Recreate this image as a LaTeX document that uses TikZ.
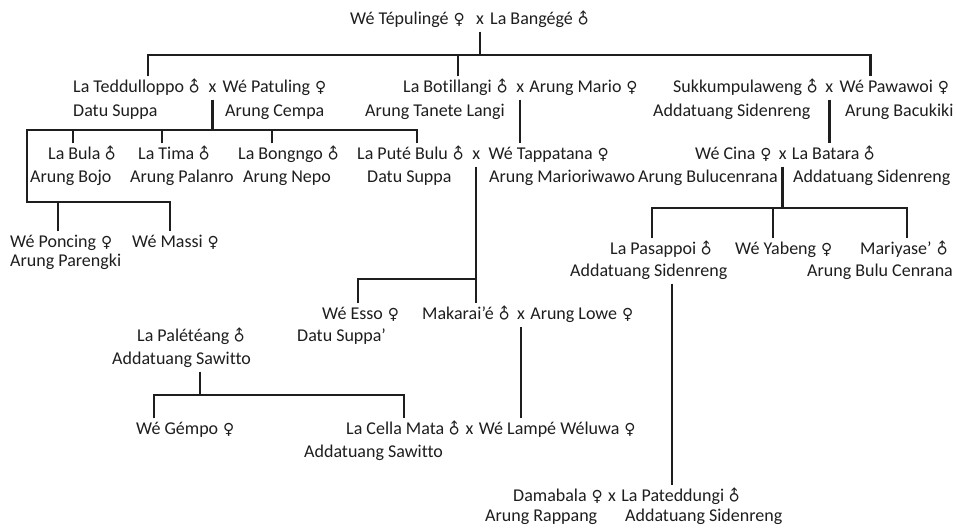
\documentclass[tikz,border=0pt]{standalone}
\usepackage{fontspec}
\usetikzlibrary{positioning}
\setmainfont{Carlito}[Ligatures=NoCommon]
\newfontfamily\symfont{DejaVu Sans}[Scale=0.85]
\definecolor{ink}{HTML}{1E1E1E}
\newcommand{\msym}{\hspace{6pt}\makebox[9pt]{\symfont\rotatebox[origin=c]{45}{♂}}}
\newcommand{\fsym}{\hspace{6pt}\makebox[9pt]{\symfont ♀}}
\tikzset{
  every node/.style={font=\fontsize{18}{22}\selectfont, text=ink, inner xsep=0pt, inner ysep=3pt, text height=13pt, text depth=4pt},
  link/.style={draw=ink, line width=2.4pt},
}
\begin{document}
\begin{tikzpicture}[x=1pt,y=-1pt]
  \useasboundingbox[fill=white] (0,0) rectangle (956,530);
  % first couple
  \node[anchor=west] (tepu) at (350,20) {Wé Tépulingé\fsym};
  \node[right=12pt of tepu] (x0) {x};
  \node[right=6pt of x0] (bange) {La Bangégé\msym};
  % their children
  \node[anchor=west] (tedd) at (73,88) {La Teddulloppo\msym};
  \node[right=9pt of tedd] (x1) {x};
  \node[right=6pt of x1] (patul) {Wé Patuling\fsym};
  \node[anchor=west] (teddT) at (73,112) {Datu Suppa};
  \node[anchor=west] (patulT) at (225,112) {Arung Cempa};
  \node[anchor=west] (botil) at (403,88) {La Botillangi\msym};
  \node[right=9pt of botil] (x2) {x};
  \node[right=5pt of x2] (mario) {Arung Mario\fsym};
  \node[anchor=west] (botilT) at (365,112) {Arung Tanete Langi};
  \node[anchor=west] (sukku) at (673,88) {Sukkumpulaweng\msym};
  \node[right=8pt of sukku] (x3) {x};
  \node[right=6pt of x3] (pawa) {Wé Pawawoi\fsym};
  \node[anchor=west] (sukkuT) at (653,112) {Addatuang Sidenreng};
  \node[anchor=west] (pawaT) at (845,112) {Arung Bacukiki};
  % grandchildren
  \node[anchor=west] (bula) at (48,155) {La Bula\msym};
  \node[anchor=west] (bulaT) at (30,178) {Arung Bojo};
  \node[anchor=west] (tima) at (138,155) {La Tima\msym};
  \node[anchor=west] (timaT) at (130,178) {Arung Palanro};
  \node[anchor=west] (bong) at (238,155) {La Bongngo\msym};
  \node[anchor=west] (bongT) at (243,178) {Arung Nepo};
  \node[anchor=west] (pute) at (357,155) {La Puté Bulu\msym};
  \node[right=9pt of pute] (x4) {x};
  \node[right=8pt of x4] (tappa) {Wé Tappatana\fsym};
  \node[anchor=west] (puteT) at (367,178) {Datu Suppa};
  \node[anchor=west] (tappaT) at (489,178) {Arung Marioriwawo};
  \node[anchor=west] (cina) at (695,155) {Wé Cina\fsym};
  \node[right=8pt of cina] (x5) {x};
  \node[right=5pt of x5] (batara) {La Batara\msym};
  \node[anchor=west] (cinaT) at (638,178) {Arung Bulucenrana};
  \node[anchor=west] (bataraT) at (793,178) {Addatuang Sidenreng};
  % next generation
  \node[anchor=west] (poncing) at (10,243) {Wé Poncing\fsym};
  \node[anchor=west] (poncingT) at (10,262) {Arung Parengki};
  \node[anchor=west] (massi) at (132,243) {Wé Massi\fsym};
  \node[anchor=west] (pasap) at (610,250) {La Pasappoi\msym};
  \node[anchor=west] (pasapT) at (570,272) {Addatuang Sidenreng};
  \node[anchor=west] (yabeng) at (735,250) {Wé Yabeng\fsym};
  \node[anchor=west] (mariy) at (860,250) {Mariyase’\msym};
  \node[anchor=west] (mariyT) at (807,272) {Arung Bulu Cenrana};
  \node[anchor=west] (esso) at (322,315) {Wé Esso\fsym};
  \node[anchor=west] (essoT) at (297,337) {Datu Suppa’};
  \node[anchor=west] (makar) at (422,315) {Makarai’é\msym};
  \node[right=8pt of makar] (x6) {x};
  \node[right=5pt of x6] (lowe) {Arung Lowe\fsym};
  \node[anchor=west] (palet) at (137,337) {La Palétéang\msym};
  \node[anchor=west] (paletT) at (112,360) {Addatuang Sawitto};
  \node[anchor=west] (gempo) at (136,430) {Wé Gémpo\fsym};
  \node[anchor=west] (cella) at (346,430) {La Cella Mata\msym};
  \node[right=6pt of cella] (x7) {x};
  \node[right=5pt of x7] (lampe) {Wé Lampé Wéluwa\fsym};
  \node[anchor=west] (cellaT) at (304,453) {Addatuang Sawitto};
  \node[anchor=west] (damab) at (513,497) {Damabala\fsym};
  \node[right=6pt of damab] (x8) {x};
  \node[right=5pt of x8] (pated) {La Pateddungi\msym};
  \node[anchor=west] (damabT) at (485,517) {Arung Rappang};
  \node[anchor=west] (patedT) at (625,517) {Addatuang Sidenreng};
  % lines of descent
  \draw[link] (x0.south) -- ++(0,23) coordinate (j0);
  \draw[link] ([xshift=75pt]tedd.north west) |- (j0) -| ([xshift=31pt]pawa.north west);
  \draw[link] ([xshift=55pt]botil.north west) -- ([xshift=55pt]botil.north west |- j0);
  \draw[link] (x1.south) -- ++(0,30) coordinate (j1);
  \draw[link] ([xshift=60pt]pute.north west) |- (j1);
  \coordinate (j1b) at (27,202);
  \draw[link] (j1) -| (j1b) -| ([xshift=38pt]massi.north west);
  \draw[link] ([xshift=25pt]bula.north west) -- ([xshift=25pt]bula.north west |- j1);
  \draw[link] ([xshift=24pt]tima.north west) -- ([xshift=24pt]tima.north west |- j1);
  \draw[link] ([xshift=34pt]bong.north west) -- ([xshift=34pt]bong.north west |- j1);
  \draw[link] ([xshift=48pt]poncing.north west) -- ([xshift=48pt]poncing.north west |- j1b);
  \draw[link] (x2.south) -- (x2.south |- tappa.north);
  \draw[link] (x3.south) -- (x3.south |- batara.north);
  \draw[link] (x4.south) -- ++(0,112) coordinate (j4) -- (x4.south |- makar.north);
  \draw[link] ([xshift=36pt]esso.north west) |- (j4);
  \draw[link] (x5.south) -- ++(0,41) coordinate (j5);
  \draw[link] ([xshift=42pt]pasap.north west) |- (j5) -| ([xshift=47pt]mariy.north west);
  \draw[link] ([xshift=38pt]yabeng.north west) -- ([xshift=38pt]yabeng.north west |- j5);
  \draw[link] ([xshift=51pt]pated.north west |- pasapT.south) -- ([xshift=51pt]pated.north west);
  \draw[link] (x6.south) -- (x6.south |- lampe.north);
  \draw[link] ([xshift=88pt]paletT.south west) -- ++(0,23) coordinate (j6);
  \draw[link] ([xshift=18pt]gempo.north west) |- (j6) -| ([xshift=58pt]cella.north west);
\end{tikzpicture}
\end{document}
